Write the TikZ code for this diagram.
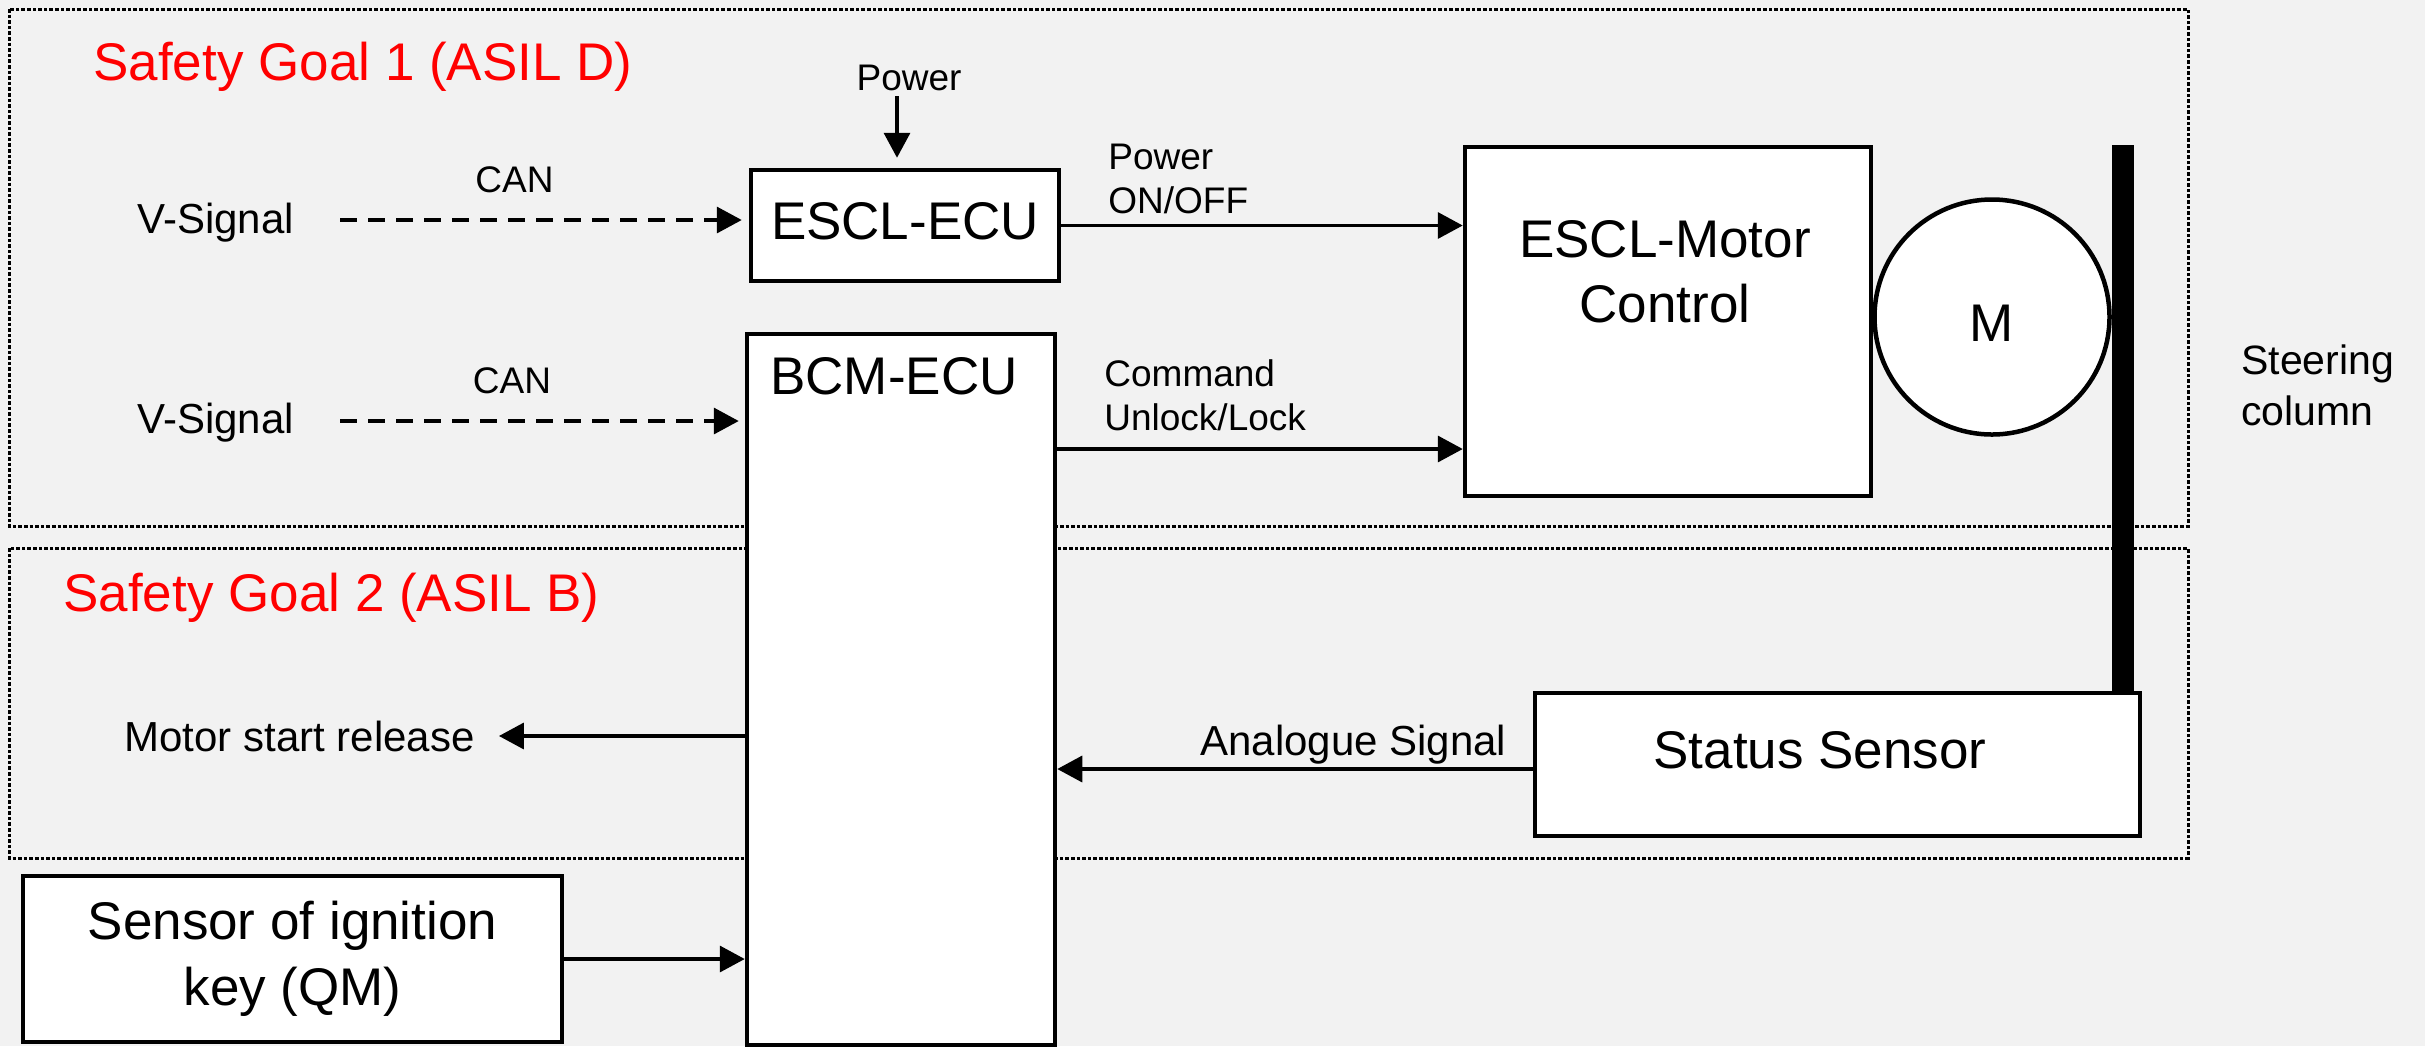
\documentclass[tikz,border=0pt]{standalone}
\usepackage{fontspec}
\setmainfont{Liberation Sans}
\usetikzlibrary{arrows.meta}
\definecolor{bg}{HTML}{F2F2F2}
\definecolor{sgred}{HTML}{FF0000}
\begin{document}
\begin{tikzpicture}[x=0.5pt,y=-0.5pt,
  box/.style={draw=black, fill=white, line width=2.25pt, inner sep=0pt},
  lbl/.style={inner sep=0pt},
  arr/.style={line width=1.75pt, -{Triangle[length=12.5pt,width=13pt]}},
  darr/.style={arr, dash pattern=on 8.5pt off 5.5pt},
  frame/.style={draw=black, line width=1.5pt, dash pattern=on 1.8pt off 1pt},
  big/.style={font=\fontsize{26.5}{32.5}\selectfont},
  mid/.style={font=\fontsize{21}{25}\selectfont},
  sml/.style={font=\fontsize{18.5}{22}\selectfont},
]
\fill[bg] (0,0) rectangle (2425,1046);
\useasboundingbox (0,0) rectangle (2425,1046);

% safety goal frames
\draw[frame] (9,9) rectangle (2188,526);
\draw[frame] (9,548) rectangle (2188,858);

% boxes
\node[box, minimum width=154pt, minimum height=55.5pt, big, text depth=4.5pt] (escl) at (905,225.5) {ESCL-ECU};
\node[box, minimum width=154pt, minimum height=355.5pt] (bcm) at (901,689.5) {};
\node[box, minimum width=203pt, minimum height=174.5pt] (mc) at (1668,321.5) {};
\node[box, minimum width=302.5pt, minimum height=71.5pt] (ss) at (1837.5,764.5) {};
\node[box, minimum width=269.5pt, minimum height=83pt, font=\fontsize{26.5}{33}\selectfont, align=center] (key) at (292.5,959) {Sensor of ignition\\key (QM)};
\node[box, circle, minimum size=117.5pt, big, text height=24pt, text depth=0pt] (motor) at (1992,317) {M};

% steering column
\coordinate (colTop) at (2123,145);
\draw[line width=11pt] (colTop) -- (colTop |- ss.north);

% texts (for multi-line nodes the base anchor is the last line's baseline)
\node[lbl, big, text=sgred, anchor=base west] (sg1) at (93,80) {Safety Goal 1 (ASIL D)};
\node[lbl, big, text=sgred, anchor=base west] (sg2) at (63,611) {Safety Goal 2 (ASIL B)};
\node[lbl, sml, anchor=base] (pwr) at (909,90) {Power};
\node[lbl, mid, anchor=base west] (vs1) at (137,233) {V-Signal};
\node[lbl, mid, anchor=base west] (vs2) at (137,433) {V-Signal};
\node[lbl, sml, anchor=base] (can1) at (514.5,192) {CAN};
\node[lbl, sml, anchor=base] (can2) at (512,393) {CAN};
\node[lbl, sml, anchor=base west, align=left] (pof) at (1108,213) {Power\\ON/OFF};
\node[lbl, sml, anchor=base west, align=left] (cmd) at (1104,430) {Command\\Unlock/Lock};
\node[lbl, big, anchor=base, align=center] (mct) at (1665,322) {ESCL-Motor\\Control};
\node[lbl, big, anchor=base] (bcmt) at (894,394) {BCM-ECU};
\node[lbl, big, anchor=base] (sst) at (1820,768) {Status Sensor};
\node[lbl, mid, anchor=base west] (ana) at (1200,755) {Analogue Signal};
\node[lbl, mid, anchor=base west] (msr) at (124,751) {Motor start release};
\node[lbl, font=\fontsize{20.5}{25.5}\selectfont, anchor=base west, align=left] (stc) at (2241,425) {Steering\\column};

% connectors
\coordinate (pwA) at (897,96);
\draw[arr, shorten >=5pt] (pwA) -- (pwA |- escl.north);
\coordinate (d1) at (340,220);
\draw[darr, shorten >=3.5pt] (d1) -- (d1 -| escl.west);
\coordinate (d2) at (340,421);
\draw[darr, shorten >=3pt] (d2) -- (d2 -| bcm.west);
\draw[arr] (escl.east) -- (escl.east -| mc.west);
\coordinate (cmdY) at (0,449);
\draw[arr] (bcm.east |- cmdY) -- (mc.west |- cmdY);
\coordinate (anY) at (0,769);
\draw[arr] (ss.west |- anY) -- (bcm.east |- anY);
\draw[arr, shorten >=12pt] (bcm.west |- msr.east) -- (msr.east);
\draw[arr] (key.east) -- (key.east -| bcm.west);
\end{tikzpicture}
\end{document}
